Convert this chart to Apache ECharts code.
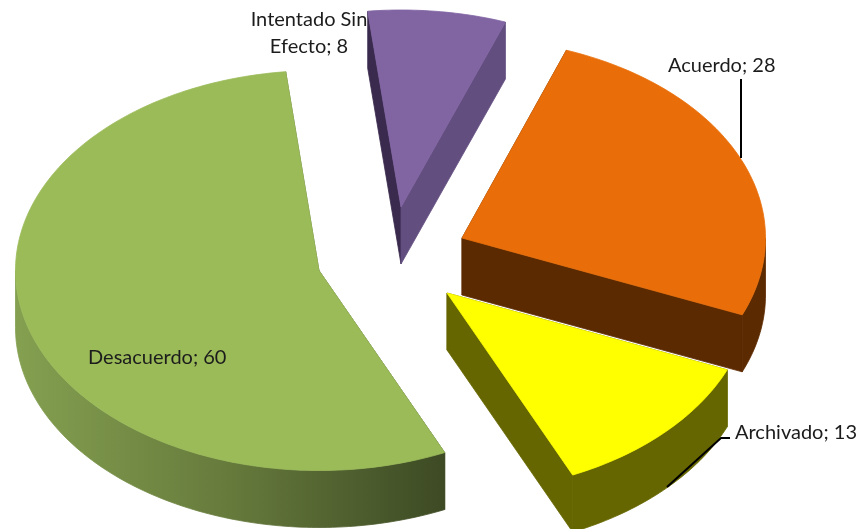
<!DOCTYPE html>
<html>
<head>
<meta charset="utf-8">
<style>html,body{margin:0;padding:0;background:#fff}#c{width:862px;height:529px}</style>
<script src="https://cdn.jsdelivr.net/npm/echarts@6/dist/echarts.min.js"></script>
</head>
<body>
<div id="c"></div>
<script>
// Data, in clockwise drawing order
const categories = ['Intentado Sin\nEfecto', 'Acuerdo', 'Archivado', 'Desacuerdo'];
const values = [8, 28, 13, 60];

// Presentation
const START_ANGLE = -6.3;
const RX = 303.5, DEPTH = 57;
const centers = [[401, 207, 197], [462, 238, 200], [447, 293, 200], [319, 270.5, 200]];
const topColors = ['#8165A3', '#E96E0A', '#FFFF00', '#9BBB59'];
const greenWall = {
  type: 'linear', x: 15, y: 0, x2: 445, y2: 0, global: true,
  colorStops: [{offset: 0, color: '#84A050'}, {offset: 0.5, color: '#667A3C'}, {offset: 1, color: '#3D4A24'}]
};
const wallColors = ['#634E80', '#5C2A00', '#666600', greenWall];
const startCutColors = ['#3A2A4D', '#5C2A00', '#666600', greenWall];
const labelPos = [[309, 33.5, 'center'], [668, 66, 'left'], [735, 433, 'left'], [88, 358, 'left']];
const leaders = [null, [[741, 79], [741, 158]], [[730, 438], [721, 438], [667, 487]], null];
const FONT = '20px Lato, "Open Sans", sans-serif';

const total = values.reduce((a, b) => a + b, 0);

function pt(c, deg, dy) {
  const t = deg * Math.PI / 180;
  return [c[0] + RX * Math.sin(t), c[1] - c[2] * Math.cos(t) + (dy || 0)];
}
function arc(c, a0, a1, dy) {
  const n = Math.max(2, Math.ceil(Math.abs(a1 - a0)));
  const pts = [];
  for (let i = 0; i <= n; i++) pts.push(pt(c, a0 + (a1 - a0) * i / n, dy));
  return pts;
}
function poly(points, fill) {
  return {type: 'polygon', shape: {points}, silent: true,
    style: {fill, stroke: fill, lineWidth: 0.8, lineJoin: 'round'}};
}
function renderItem(params, api) {
  const i = params.dataIndex, c = centers[i], children = [];
  let before = 0;
  for (let k = 0; k < i; k++) before += values[k];
  const a0 = START_ANGLE + before / total * 360;
  const a1 = a0 + api.value(0) / total * 360;
  const apex = [c[0], c[1]], apexLow = [c[0], c[1] + DEPTH];
  // cut faces
  children.push(poly([apex, pt(c, a0), pt(c, a0, DEPTH), apexLow], startCutColors[i]));
  children.push(poly([apex, pt(c, a1), pt(c, a1, DEPTH), apexLow], wallColors[i]));
  // outer wall: only the front half of the rim shows
  const w0 = Math.max(a0, 90), w1 = Math.min(a1, 270);
  if (w1 > w0) {
    children.push(poly(arc(c, w0, w1, 0).concat(arc(c, w1, w0, DEPTH)), wallColors[i]));
  }
  // top face
  children.push(poly([apex].concat(arc(c, a0, a1, 0)), topColors[i]));
  return {type: 'group', children};
}
function renderLabels(params, api) {
  const i = params.dataIndex, p = labelPos[i], children = [];
  if (leaders[i]) {
    children.push({type: 'polyline', shape: {points: leaders[i]},
      style: {stroke: '#000', lineWidth: 2, fill: null}, silent: true});
  }
  children.push({type: 'text', x: p[0], y: p[1], silent: true, style: {
    text: categories[i] + '; ' + api.value(0), font: FONT, fill: '#1c1c1c',
    align: p[2], verticalAlign: 'middle', lineHeight: 27}});
  return {type: 'group', children};
}

const chart = echarts.init(document.getElementById('c'), null, {renderer: 'canvas'});
chart.setOption({
  animation: false,
  backgroundColor: '#fff',
  series: [
    {type: 'custom', coordinateSystem: 'none', renderItem, data: values, z: 1, silent: true},
    {type: 'custom', coordinateSystem: 'none', renderItem: renderLabels, data: values, z: 2, silent: true}
  ]
});
</script>
</body>
</html>
